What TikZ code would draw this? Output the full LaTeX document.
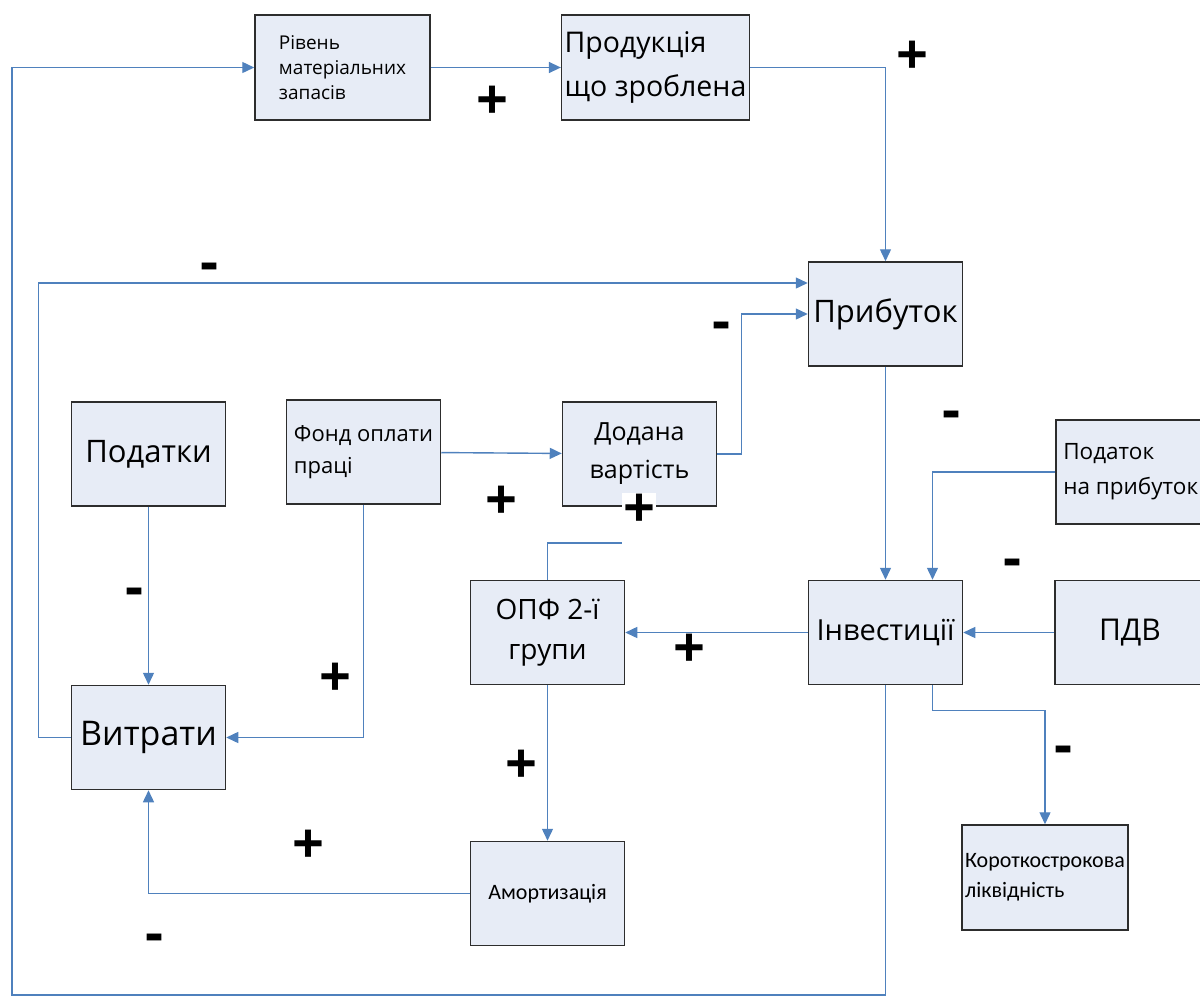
\documentclass[tikz,border=0pt]{standalone}
\usepackage{fontspec}
\setmainfont{Open Sans}
\newfontfamily\narrowfont{Carlito}
\usetikzlibrary{positioning,arrows.meta,calc}
\definecolor{LinkBlue}{RGB}{79,129,189}
\definecolor{BoxFill}{RGB}{231,236,246}
\definecolor{BoxLine}{RGB}{45,45,45}
\tikzset{
  flow/.style={-{Triangle[length=12pt,width=11pt]},line width=1.4pt,draw=LinkBlue},
  link/.style={line width=1.4pt,draw=LinkBlue},
  box/.style={draw=BoxLine,fill=BoxFill,line width=1.5pt,
    minimum width=154pt,minimum height=104pt,inner sep=3pt,align=center},
  leftbox/.style={box,align=left},
  sign/.style={font=\fontsize{56}{56}\selectfont\bfseries,fill=white,inner sep=1pt}
}

\begin{document}
\begin{tikzpicture}[x=1pt,y=-1pt]
  \useasboundingbox (0,0) rectangle (1200,999);
  % top row
  \node[leftbox,minimum width=175pt,minimum height=105pt,font=\fontsize{19}{25}\selectfont] (level) at (342.5,67.5) {Рівень\\матеріальних\\запасів};
  \node[leftbox,minimum width=185pt,minimum height=105pt,font=\fontsize{28.5}{44}\selectfont] (product) at (655.5,67.5) {Продукція\\що зроблена};
  \node[box,font=\fontsize{31}{36}\selectfont] (profit) at (885.5,314) {Прибуток};
  % middle row
  \node[box,font=\fontsize{31}{36}\selectfont] (taxes) at (148.5,454) {Податки};
  \node[leftbox,font=\fontsize{22}{32}\selectfont] (wagefund) at (363.5,452) {Фонд оплати\\праці};
  \node[box,font=\fontsize{25}{38}\selectfont] (added) at (639.5,454) {Додана\\вартість};
  \node[leftbox,anchor=west,minimum width=150pt,inner sep=2pt,font=\fontsize{22.5}{35}\selectfont] (profittax) at (1055,472) {Податок\\на прибуток};
  \node[box,font=\fontsize{28}{40}\selectfont] (fixedassets) at (547.5,632.5) {ОПФ 2-ї\\групи};
  \node[box,font=\fontsize{29}{36}\selectfont] (invest) at (885.5,632.5) {Інвестиції};
  \node[box,minimum width=150pt,font=\fontsize{30}{36}\selectfont] (vat) at (1130,632.5) {ПДВ};
  % bottom row
  \node[box,font=\fontsize{34}{40}\selectfont] (costs) at (148.5,737.5) {Витрати};
  \node[box,font=\narrowfont\fontsize{22}{28}\selectfont] (deprec) at (547.5,893.5) {Амортизація};
  \node[leftbox,minimum width=166pt,minimum height=105pt,font=\narrowfont\fontsize{22}{30}\selectfont] (liquidity) at (1045,877.5) {Короткострокова\\ліквідність};
  \coordinate (loopcorner) at (12,995);
  \coordinate (stubend) at (622,543);

  \draw[flow] (level) -- (product);
  \draw[flow] (product.east) -| (profit.north);
  \draw[flow] (costs.west) -- ++(-32,0) |- ([yshift=31pt]profit.west);
  \draw[flow] (wagefund) -- (added);
  \draw[flow] (added.east) -- ++(24,0) |- (profit.west);
  \draw[flow] (profit) -- (invest);
  \draw[flow] (profittax.west) -| ([xshift=47pt]invest.north);
  \draw[flow] (vat) -- (invest);
  \draw[flow] (invest) -- (fixedassets);
  \draw[flow] ([xshift=47pt]invest.south) -- ++(0,25) -| (liquidity.north);
  \draw[flow] (invest.south) |- (loopcorner) |- (level.west);
  \draw[link] (fixedassets.north) |- (stubend);
  \draw[flow] (fixedassets) -- (deprec);
  \draw[flow] (deprec.west) -| (costs.south);
  \draw[flow] (taxes) -- (costs);
  \draw[flow] (wagefund.south) |- (costs.east);

  % signs
  \node[sign] (s1) at (492,103) {+};
  \node[sign] (s2) at (912,58) {+};
  \node[sign] (s3) at (210,272) {-};
  \node[sign] (s4) at (722,331) {-};
  \node[sign] (s5) at (952,420) {-};
  \node[sign] (s6) at (501,503) {+};
  \node[sign] (s7) at (639,511) {+};
  \node[sign] (s8) at (1012,568) {-};
  \node[sign] (s9) at (135,597) {-};
  \node[sign] (s10) at (689,651) {+};
  \node[sign] (s11) at (335,680) {+};
  \node[sign] (s12) at (1063,755) {-};
  \node[sign] (s13) at (521,767) {+};
  \node[sign] (s14) at (308,847) {+};
  \node[sign] (s15) at (155,943) {-};
\end{tikzpicture}
\end{document}
